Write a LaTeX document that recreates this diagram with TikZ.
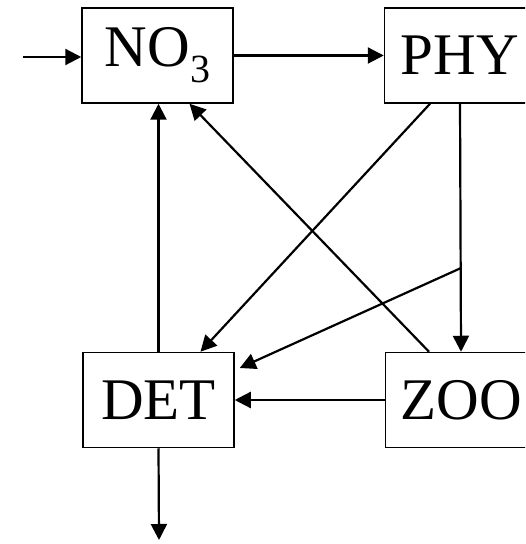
\documentclass[tikz,border=0pt]{standalone}
\usepackage{fontspec}
\setmainfont{Liberation Serif}
\usetikzlibrary{arrows.meta,calc}

\begin{document}
\begin{tikzpicture}[x=0.5pt,y=-0.5pt,
  pool/.style={draw,line width=0.75pt,minimum width=75.5pt,minimum height=47.5pt,inner sep=0pt,font=\fontsize{29.5}{34}\selectfont},
  flux/.style={-{Triangle[length=8pt,width=8pt]},line width=1.1pt}
]
  \clip (0,0) rectangle (525,544);

  % Pools
  \node[pool] (no3) at (157.5,55.5) {NO\raisebox{-8pt}{\fontsize{20}{20}\selectfont 3}};
  \node[pool] (phy) at (460,55.5) {PHY};
  \node[pool] (det) at (158.5,400) {DET};
  \node[pool] (zoo) at (461,400) {ZOO};

  % Loose ends
  \coordinate (src) at (23,57);
  \coordinate (sink) at (159,540);
  \coordinate (br) at ($(phy.south)!0.663!(zoo.north)$);

  % Fluxes
  \draw[flux] (src) -- (no3.west |- src);
  \draw[flux] (no3) -- (phy);
  \draw[flux] (phy.south) -- (zoo.north);
  \draw[flux] ($(phy.south)+(-30,0)$) -- ($(det.north)+(42,0)$);
  \draw[flux] (br) -- ($(det.east)+(5,-32)$);
  \draw[flux] ($(zoo.north)+(-32,0)$) -- ($(no3.south)+(32,0)$);
  \draw[flux] (zoo) -- (det);
  \draw[flux] (det.north) -- (det.north |- no3.south);
  \draw[flux] (det.south) -- (sink);
\end{tikzpicture}
\end{document}
